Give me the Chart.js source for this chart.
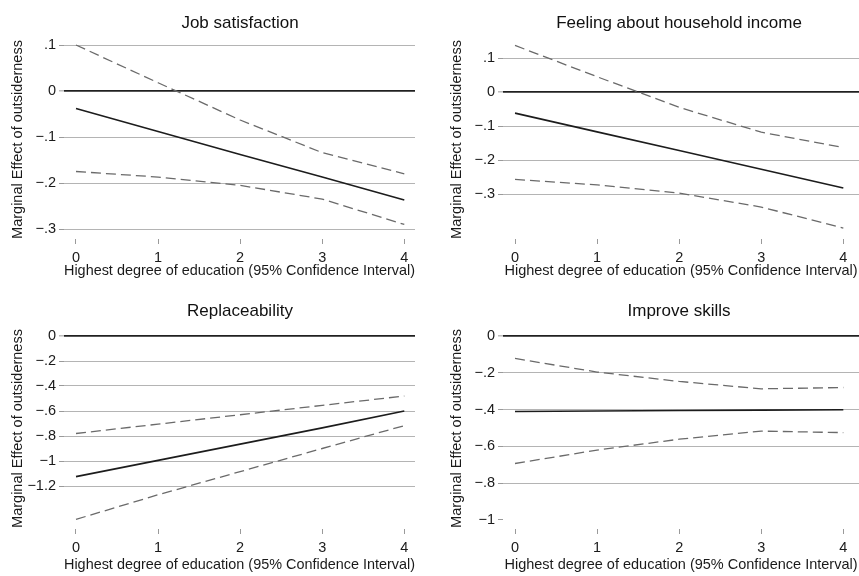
<!DOCTYPE html>
<html>
<head>
<meta charset="utf-8">
<script src="https://cdn.jsdelivr.net/npm/chart.js@4.4.1/dist/chart.umd.min.js"></script>
<style>
  html, body { margin: 0; padding: 0; background: #ffffff; }
  #wrap { position: relative; width: 859px; height: 576px; overflow: hidden; background: #fff; }
  canvas { position: absolute; }
</style>
</head>
<body>
<div id="wrap">
  <canvas id="c1" width="430" height="288" style="left:0px;top:0px"></canvas>
  <canvas id="c2" width="420" height="288" style="left:439px;top:0px"></canvas>
  <canvas id="c3" width="430" height="288" style="left:0px;top:288px"></canvas>
  <canvas id="c4" width="420" height="288" style="left:439px;top:288px"></canvas>
</div>
<script>
// ---------- data ----------
const educationLevels = [0, 1, 2, 3, 4];
const xTickLabels = ['0', '1', '2', '3', '4'];
const xAxisTitle = 'Highest degree of education (95% Confidence Interval)';
const yAxisTitle = 'Marginal Effect of outsiderness';

const panelTitles = ['Job satisfaction', 'Feeling about household income', 'Replaceability', 'Improve skills'];

// Job satisfaction
const jobEstimate = [-0.038, -0.088, -0.138, -0.187, -0.237];
const jobUpper    = [0.100, 0.018, -0.063, -0.134, -0.180];
const jobLower    = [-0.175, -0.187, -0.205, -0.235, -0.290];
const jobTicks       = [0.1, 0, -0.1, -0.2, -0.3];
const jobTickLabels  = ['.1', '0', '\u2212.1', '\u2212.2', '\u2212.3'];

// Feeling about household income
const incomeEstimate = [-0.062, -0.117, -0.172, -0.227, -0.282];
const incomeUpper    = [0.137, 0.045, -0.045, -0.118, -0.163];
const incomeLower    = [-0.257, -0.273, -0.297, -0.338, -0.400];
const incomeTicks      = [0.1, 0, -0.1, -0.2, -0.3];
const incomeTickLabels = ['.1', '0', '\u2212.1', '\u2212.2', '\u2212.3'];

// Replaceability
const replaceEstimate = [-1.125, -0.995, -0.865, -0.735, -0.600];
const replaceUpper    = [-0.780, -0.705, -0.630, -0.555, -0.480];
const replaceLower    = [-1.467, -1.270, -1.085, -0.900, -0.717];
const replaceTicks      = [0, -0.2, -0.4, -0.6, -0.8, -1, -1.2];
const replaceTickLabels = ['0', '\u2212.2', '\u2212.4', '\u2212.6', '\u2212.8', '\u22121', '\u22121.2'];

// Improve skills
const skillsEstimate = [-0.410, -0.408, -0.405, -0.403, -0.401];
const skillsUpper    = [-0.122, -0.196, -0.247, -0.287, -0.280];
const skillsLower    = [-0.693, -0.620, -0.561, -0.517, -0.525];
const skillsTicks      = [0, -0.2, -0.4, -0.6, -0.8, -1];
const skillsTickLabels = ['0', '\u2212.2', '\u2212.4', '\u2212.6', '\u2212.8', '\u22121'];

// ---------- styling ----------
const FONT = "'Liberation Sans', Arial, Helvetica, sans-serif";
Chart.defaults.font.family = FONT;
Chart.defaults.font.size = 14.5;
Chart.defaults.color = '#1a1a1a';

const panelTitlePlugin = {
  id: 'panelTitle',
  afterDraw(chart, args, opts) {
    const ctx = chart.ctx;
    ctx.save();
    ctx.font = '17px ' + FONT;
    ctx.fillStyle = '#111111';
    ctx.textAlign = 'center';
    ctx.textBaseline = 'alphabetic';
    ctx.fillText(opts.text, opts.x, opts.y);
    ctx.restore();
  }
};

function pts(ys) { return educationLevels.map((x, i) => ({ x: x, y: ys[i] })); }

function makePanel(id, cfg) {
  const hidden = cfg.hiddenGrid || [];
  new Chart(document.getElementById(id), {
    type: 'line',
    data: {
      datasets: [
        { data: pts(cfg.est), borderColor: '#1c1c1c', borderWidth: 1.6, pointRadius: 0, fill: false, tension: 0 },
        { data: pts(cfg.upper), borderColor: '#6a6a6a', borderWidth: 1.3, borderDash: [10, 5], pointRadius: 0, fill: false, tension: 0 },
        { data: pts(cfg.lower), borderColor: '#6a6a6a', borderWidth: 1.3, borderDash: [10, 5], pointRadius: 0, fill: false, tension: 0 }
      ]
    },
    options: {
      responsive: false,
      animation: false,
      events: [],
      layout: { padding: { top: 40, left: 0, right: cfg.padRight, bottom: 0 } },
      plugins: {
        legend: { display: false },
        tooltip: { enabled: false },
        title: { display: false },
        panelTitle: { text: cfg.title, x: 240, y: 28 }
      },
      scales: {
        x: {
          type: 'linear',
          min: cfg.xMin, max: cfg.xMax,
          afterBuildTicks: s => { s.ticks = educationLevels.map(v => ({ value: v })); },
          afterFit: s => { s.height = cfg.xHeight; },
          border: { display: false },
          grid: { drawOnChartArea: false, drawTicks: true, tickLength: 5, color: '#9a9a9a', lineWidth: 1 },
          ticks: { padding: 5, autoSkip: false, maxRotation: 0, callback: (v) => xTickLabels[educationLevels.indexOf(v)] },
          title: { display: true, text: xAxisTitle, padding: { top: 0, bottom: cfg.xTitlePad } }
        },
        y: {
          type: 'linear',
          min: cfg.yMin, max: cfg.yMax,
          afterBuildTicks: s => { s.ticks = cfg.ticks.map(v => ({ value: v })); },
          afterFit: s => { s.width = 64; },
          border: { display: false },
          grid: {
            drawTicks: true, tickLength: 5,
            color: c => {
              const v = c.tick ? c.tick.value : null;
              if (v === 0) return '#202020';
              if (hidden.indexOf(v) >= 0) return 'rgba(0,0,0,0)';
              return '#b4b4b4';
            },
            lineWidth: c => (c.tick && c.tick.value === 0) ? 1.7 : 1,
            tickColor: '#9a9a9a',
            tickWidth: 1
          },
          ticks: { padding: 3, autoSkip: false, callback: (v) => cfg.labels[cfg.ticks.indexOf(v)] },
          title: { display: true, text: yAxisTitle, padding: { top: 9.3, bottom: 0 } }
        }
      }
    },
    plugins: [panelTitlePlugin]
  });
}

makePanel('c1', {
  title: panelTitles[0], est: jobEstimate, upper: jobUpper, lower: jobLower,
  ticks: jobTicks, labels: jobTickLabels,
  yMin: -0.3217, yMax: 0.1109, xMin: -0.1462, xMax: 4.1304, padRight: 15, xHeight: 49, xTitlePad: 8.8
});
makePanel('c2', {
  title: panelTitles[1], est: incomeEstimate, upper: incomeUpper, lower: incomeLower,
  ticks: incomeTicks, labels: incomeTickLabels,
  yMin: -0.432, yMax: 0.153, xMin: -0.1462, xMax: 4.191, padRight: 0, xHeight: 49, xTitlePad: 8.8
});
makePanel('c3', {
  title: panelTitles[2], est: replaceEstimate, upper: replaceUpper, lower: replaceLower,
  ticks: replaceTicks, labels: replaceTickLabels,
  yMin: -1.544, yMax: 0.064, xMin: -0.1462, xMax: 4.1304, padRight: 15, xHeight: 47, xTitlePad: 2.5
});
makePanel('c4', {
  title: panelTitles[3], est: skillsEstimate, upper: skillsUpper, lower: skillsLower,
  ticks: skillsTicks, labels: skillsTickLabels, hiddenGrid: [-1],
  yMin: -1.049, yMax: 0.0435, xMin: -0.1462, xMax: 4.191, padRight: 0, xHeight: 47, xTitlePad: 2.5
});
</script>
</body>
</html>
